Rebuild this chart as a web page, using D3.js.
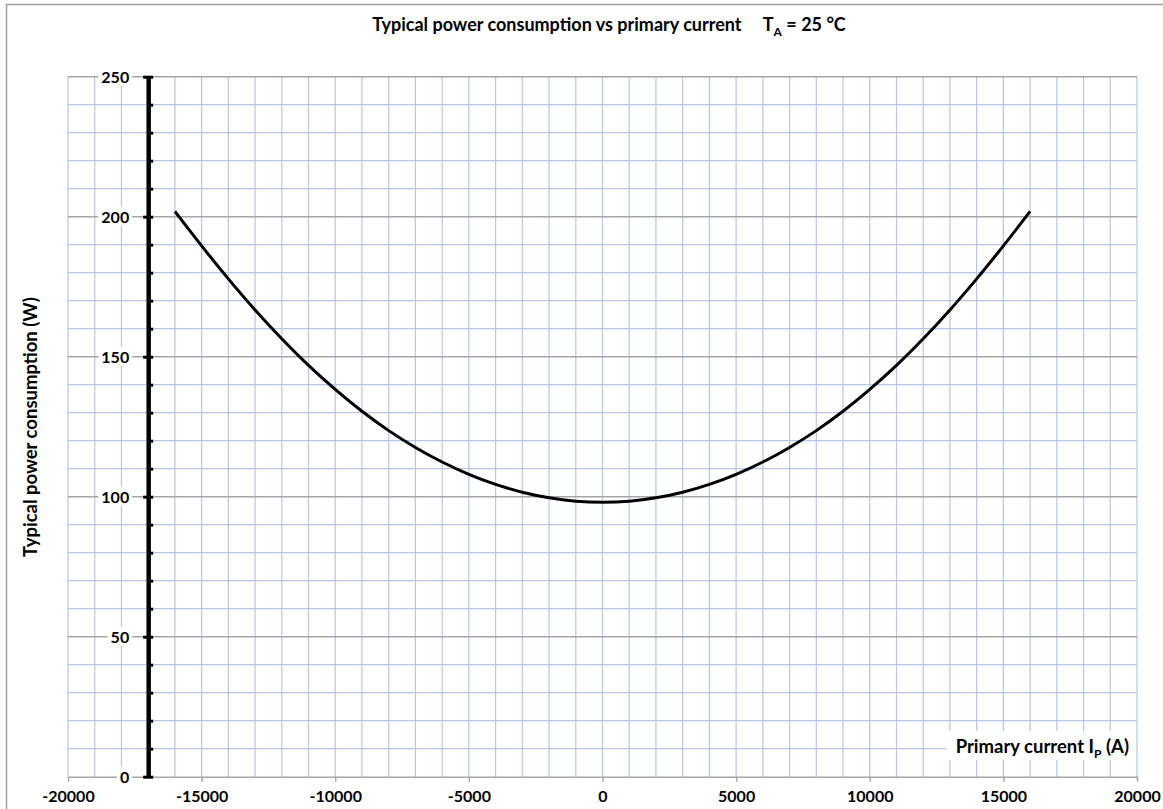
<html>
<head>
<meta charset="utf-8">
<style>
  body { margin: 0; background: #fff; }
  text { font-family: Lato, "Open Sans", sans-serif; font-weight: bold; fill: #000; }
  .minor { stroke: #b4c7e9; stroke-width: 1.2; }
  .major { stroke: #a6a6a6; stroke-width: 1.5; }
</style>
<script src="https://cdn.jsdelivr.net/npm/d3@7"></script>
</head>
<body>
<svg width="1163" height="809"></svg>
<script>
// primary current (A) and typical power consumption (W)
var currentA = [-16000, -15000, -14000, -13000, -12000, -11000, -10000, -9000, -8000,
                -7000, -6000, -5000, -4000, -3000, -2000, -1000, 0, 1000, 2000, 3000,
                4000, 5000, 6000, 7000, 8000, 9000, 10000, 11000, 12000, 13000,
                14000, 15000, 16000];
var powerW = [201.9, 189.6, 177.8, 166.7, 156.4, 146.9, 138.3, 130.5, 123.6,
              117.6, 112.4, 108, 104.4, 101.6, 99.6, 98.4, 98, 98.4, 99.6, 101.6,
              104.4, 108, 112.4, 117.6, 123.6, 130.5, 138.3, 146.9, 156.4, 166.7,
              177.8, 189.6, 201.9];
var xTicks = [-20000, -15000, -10000, -5000, 0, 5000, 10000, 15000, 20000];
var yTicks = [0, 50, 100, 150, 200, 250];
var xMinor = d3.range(-20000, 20001, 1000);
var yMinor = d3.range(0, 251, 10);

var svg = d3.select("svg");
var x = d3.scaleLinear().domain([-20000, 20000]).range([68, 1137]);
var y = d3.scaleLinear().domain([0, 250]).range([776.7, 76.7]);
var axisPos = x(-17000);

// outer chart frame
svg.append("rect").attr("x", 6.5).attr("y", 4.5).attr("width", 1200).attr("height", 900)
    .attr("fill", "none").attr("stroke", "#a0a0a0").attr("stroke-width", 1.5);

// grid
var grid = svg.append("g");
grid.selectAll("line.v").data(xMinor).enter().append("line")
    .attr("class", "minor").attr("x1", d => x(d)).attr("x2", d => x(d))
    .attr("y1", y(0)).attr("y2", y(250));
grid.selectAll("line.h").data(yMinor.filter(d => d % 50 != 0)).enter().append("line")
    .attr("class", "minor").attr("y1", d => y(d)).attr("y2", d => y(d))
    .attr("x1", x(-20000)).attr("x2", x(20000));
grid.selectAll("line.m").data(yTicks.filter(d => d > 0)).enter().append("line")
    .attr("class", "major").attr("y1", d => y(d)).attr("y2", d => y(d))
    .attr("x1", x(-20000)).attr("x2", x(20000));

// x axis
var xAxis = svg.append("g").attr("transform", "translate(0," + y(0) + ")")
    .call(d3.axisBottom(x).tickValues(xTicks).tickSize(5).tickSizeOuter(0)
        .tickFormat(d => String(d)));
xAxis.select(".domain").attr("stroke", "#a6a6a6").attr("stroke-width", 1.5);
xAxis.selectAll(".tick line").attr("stroke", "#a6a6a6").attr("stroke-width", 1.5);
xAxis.selectAll(".tick text").attr("y", 25).attr("dy", 0).style("font-size", "16px");

// curve
svg.append("path")
    .datum(currentA.map((c, i) => [c, powerW[i]]))
    .attr("fill", "none").attr("stroke", "#000").attr("stroke-width", 3)
    .attr("d", d3.line().x(d => x(d[0])).y(d => y(d[1])).curve(d3.curveCatmullRom));

// y axis
var yAxis = svg.append("g").attr("transform", "translate(" + axisPos + ",0)");
yAxis.append("g").call(d3.axisRight(y).tickValues(yMinor).tickSize(5).tickSizeOuter(0)
    .tickFormat(""));
var yMajor = yAxis.append("g").call(d3.axisLeft(y).tickValues(yTicks).tickSize(5)
    .tickSizeOuter(0).tickPadding(14));
yAxis.selectAll(".domain").attr("stroke", "#000").attr("stroke-width", 4);
yAxis.selectAll(".tick line").attr("stroke", "#000").attr("stroke-width", 3);
yMajor.selectAll(".tick text").style("font-size", "16px").attr("dy", "0.35em");
yMajor.selectAll(".tick").each(function() {
  var t = d3.select(this).select("text");
  var b = t.node().getBBox();
  d3.select(this).insert("rect", "text").attr("x", b.x - 3).attr("y", b.y)
      .attr("width", b.width + 6).attr("height", b.height).attr("fill", "#fff");
});

// titles
var title = svg.append("text").attr("x", 609).attr("y", 31)
    .attr("text-anchor", "middle").style("font-size", "18px");
title.append("tspan").text("Typical power consumption vs primary current\u00a0\u00a0\u00a0\u00a0\u00a0T");
title.append("tspan").attr("dy", 5).style("font-size", "12px").text("A");
title.append("tspan").attr("dy", -5).text(" = 25 °C");

svg.append("text").attr("transform", "translate(37,427) rotate(-90)")
    .attr("text-anchor", "middle").style("font-size", "18.5px")
    .text("Typical power consumption (W)");

var xl = svg.append("g");
xl.append("rect").attr("x", 947).attr("y", 731).attr("width", 189).attr("height", 29)
    .attr("fill", "#fff");
var xt = xl.append("text").attr("x", 1129).attr("y", 753).attr("text-anchor", "end")
    .style("font-size", "18.5px");
xt.append("tspan").text("Primary current I");
xt.append("tspan").attr("dy", 5).style("font-size", "12px").text("P");
xt.append("tspan").attr("dy", -5).text(" (A)");
</script>
</body>
</html>
